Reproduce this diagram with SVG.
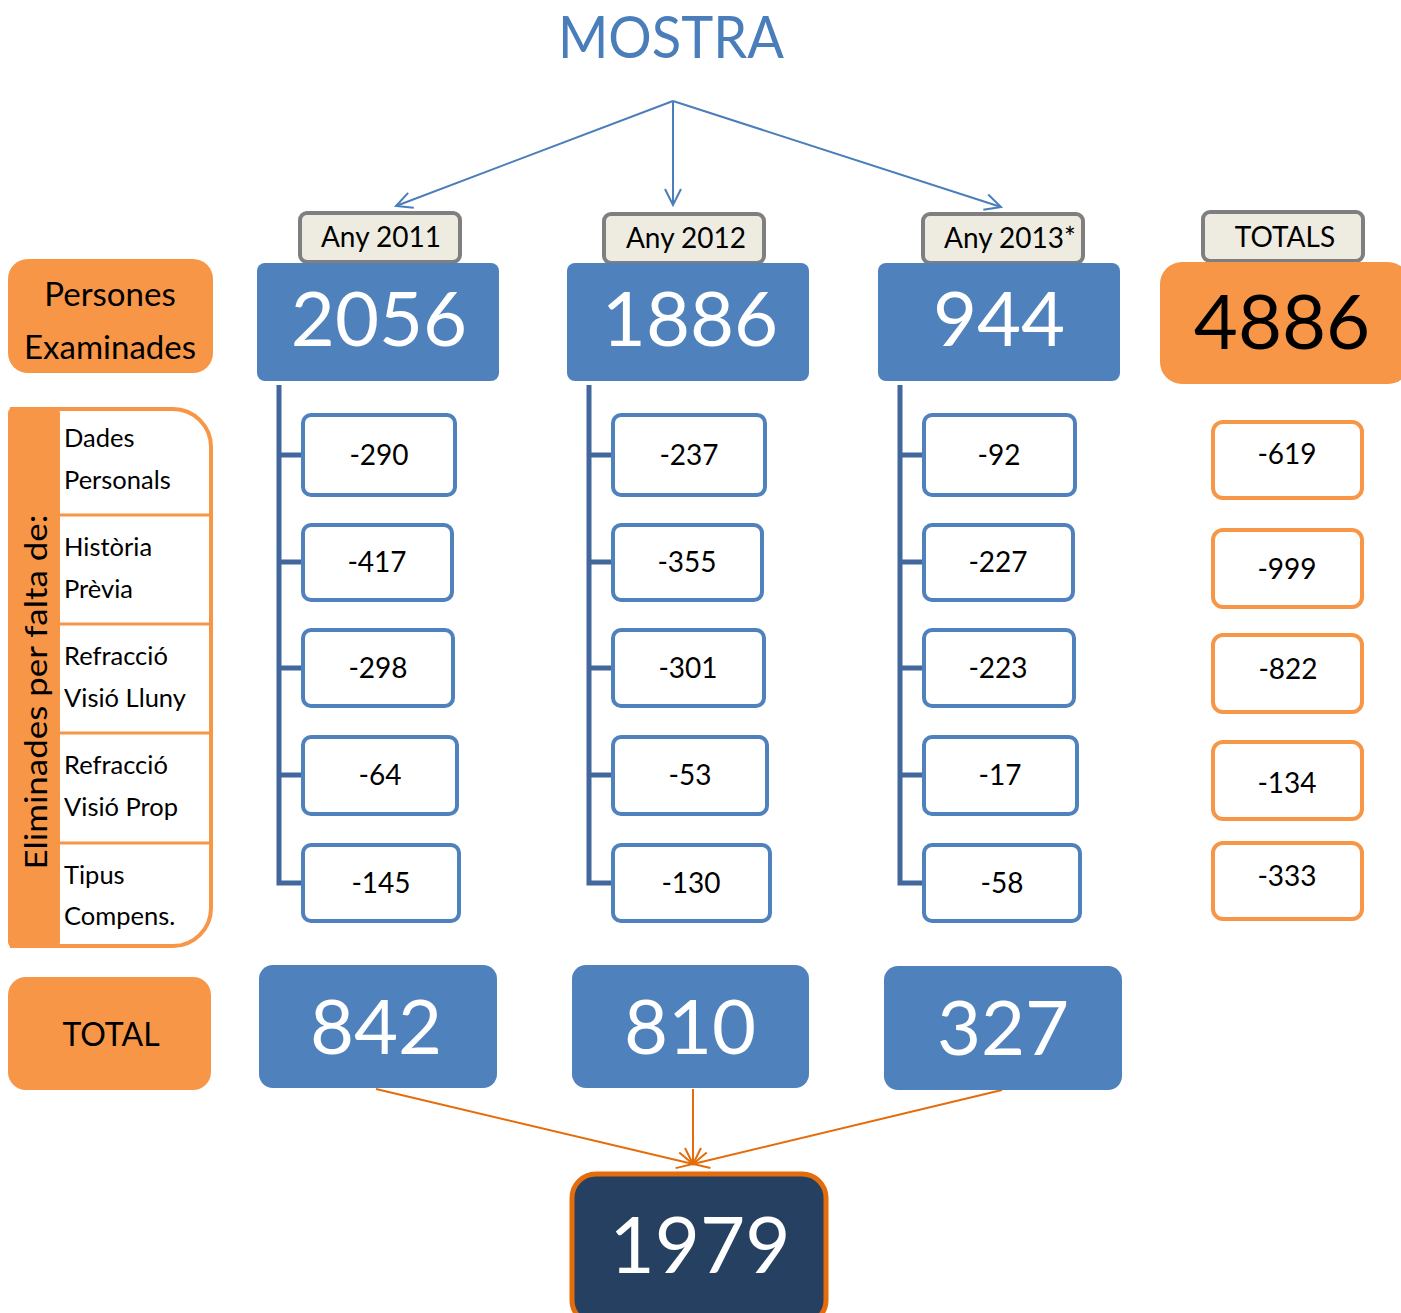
<svg xmlns="http://www.w3.org/2000/svg" width="1401" height="1313" viewBox="0 0 1401 1313">
<defs>
<style>
text{font-family:Lato,"Open Sans","Liberation Sans",sans-serif;}
.yr{fill:#EEECE1;stroke:#7F7F7F;stroke-width:4;}
.yrt{font-size:28px;fill:#000;text-anchor:middle;}
.big{fill:#4F81BD;}
.bigt{font-size:76px;fill:#fff;text-anchor:middle;}
.org{fill:#F79646;}
.sb{fill:#fff;stroke:#4F81BD;stroke-width:4;}
.sbo{fill:#fff;stroke:#F79646;stroke-width:4;}
.st{font-size:28px;fill:#000;text-anchor:middle;}
.lab{font-size:25.5px;fill:#000;}
.tree{fill:none;stroke:#41679C;stroke-width:5;}
.ab{fill:none;stroke:#4A7EBB;stroke-width:2;}
.ao{fill:none;stroke:#E46C0A;stroke-width:2;}
</style>
<marker id="mb" viewBox="0 0 20 20" refX="18" refY="10" markerWidth="20" markerHeight="20" markerUnits="userSpaceOnUse" orient="auto"><path d="M2,2 L18,10 L2,18" fill="none" stroke="#4A7EBB" stroke-width="2"/></marker>
<marker id="mo" viewBox="0 0 20 20" refX="18" refY="10" markerWidth="20" markerHeight="20" markerUnits="userSpaceOnUse" orient="auto"><path d="M2,2 L18,10 L2,18" fill="none" stroke="#E46C0A" stroke-width="2"/></marker>
</defs>
<text x="671" y="58" font-size="58" fill="#4A7EBB" text-anchor="middle" textLength="226" lengthAdjust="spacingAndGlyphs">MOSTRA</text>
<g id="connectors">
<line class="ab" x1="673" y1="101" x2="396" y2="206" marker-end="url(#mb)"/>
<line class="ab" x1="673" y1="101" x2="673" y2="205" marker-end="url(#mb)"/>
<line class="ab" x1="673" y1="101" x2="1001" y2="207" marker-end="url(#mb)"/>
<path class="tree" d="M279,385 V883 H303 M279,455 H303 M279,562 H303 M279,668 H303 M279,775 H303"/>
<path class="tree" d="M589,385 V883 H613 M589,455 H613 M589,562 H613 M589,668 H613 M589,775 H613"/>
<path class="tree" d="M900,385 V883 H924 M900,455 H924 M900,562 H924 M900,668 H924 M900,775 H924"/>
<line class="ao" x1="376" y1="1089" x2="693" y2="1164" marker-end="url(#mo)"/>
<line class="ao" x1="693" y1="1089" x2="693" y2="1164" marker-end="url(#mo)"/>
<line class="ao" x1="1002" y1="1090" x2="693" y2="1164" marker-end="url(#mo)"/>
</g>
<g id="persones"><rect class="org" x="8" y="259" width="205" height="114" rx="20"/><text x="110" y="306" font-size="33" fill="#000" text-anchor="middle">Persones</text><text x="110" y="359" font-size="33" fill="#000" text-anchor="middle">Examinades</text></g>
<g id="eliminades">
<path d="M12,409 H173 A38,38 0 0 1 211,447 V908 A38,38 0 0 1 173,946 H12 Z" fill="#fff" stroke="#F79646" stroke-width="4"/>
<rect class="org" x="8" y="407" width="52" height="541" rx="6"/>
<path d="M60,515 H211 M60,624 H211 M60,733 H211 M60,843 H211" stroke="#F79646" stroke-width="3"/>
<text transform="translate(47,692) rotate(-90)" font-size="31" fill="#000" text-anchor="middle" textLength="355" lengthAdjust="spacingAndGlyphs">Eliminades per falta de:</text>
<text class="lab" x="64" y="447">Dades</text><text class="lab" x="64" y="489">Personals</text>
<text class="lab" x="64" y="556">Història</text><text class="lab" x="64" y="598">Prèvia</text>
<text class="lab" x="64" y="665">Refracció</text><text class="lab" x="64" y="707">Visió Lluny</text>
<text class="lab" x="64" y="774">Refracció</text><text class="lab" x="64" y="816">Visió Prop</text>
<text class="lab" x="64" y="884">Tipus</text><text class="lab" x="64" y="925">Compens.</text>
</g>
<g id="total-label"><rect class="org" x="8" y="977" width="203" height="113" rx="18"/><text x="111" y="1046" font-size="32" text-anchor="middle" fill="#000">TOTAL</text></g>
<g id="y2011"><rect class="yr" x="300" y="213" width="160" height="49" rx="7"/><text class="yrt" x="381" y="247">Any 2011</text></g>
<g id="y2012"><rect class="yr" x="604" y="214" width="160" height="49" rx="7"/><text class="yrt" x="686" y="248">Any 2012</text></g>
<g id="y2013"><rect class="yr" x="923" y="214" width="160" height="49" rx="7"/><text class="yrt" x="1010" y="248">Any 2013*</text></g>
<g id="totals"><rect class="yr" x="1203" y="212" width="160" height="49" rx="7"/><text class="yrt" x="1285" y="247">TOTALS</text></g>
<g id="n2056"><rect class="big" x="257" y="263" width="242" height="118" rx="8"/><text class="bigt" x="379" y="346">2056</text></g>
<g id="n1886"><rect class="big" x="567" y="263" width="242" height="118" rx="8"/><text class="bigt" x="690" y="346">1886</text></g>
<g id="n944"><rect class="big" x="878" y="263" width="242" height="118" rx="8"/><text class="bigt" x="999" y="346">944</text></g>
<g id="n4886"><rect class="org" x="1160" y="262" width="250" height="122" rx="22"/><text class="bigt" x="1282" y="349" style="fill:#000">4886</text></g>
<g id="c1">
<rect class="sb" x="303" y="415" width="152" height="80" rx="8"/><text class="st" x="379" y="465">-290</text>
<rect class="sb" x="303" y="525" width="149" height="75" rx="8"/><text class="st" x="377" y="572">-417</text>
<rect class="sb" x="303" y="630" width="150" height="76" rx="8"/><text class="st" x="378" y="678">-298</text>
<rect class="sb" x="303" y="737" width="154" height="77" rx="8"/><text class="st" x="380" y="785">-64</text>
<rect class="sb" x="303" y="845" width="156" height="76" rx="8"/><text class="st" x="381" y="893">-145</text>
</g>
<g id="c2">
<rect class="sb" x="613" y="415" width="152" height="80" rx="8"/><text class="st" x="689" y="465">-237</text>
<rect class="sb" x="613" y="525" width="149" height="75" rx="8"/><text class="st" x="687" y="572">-355</text>
<rect class="sb" x="613" y="630" width="151" height="76" rx="8"/><text class="st" x="688" y="678">-301</text>
<rect class="sb" x="613" y="737" width="154" height="77" rx="8"/><text class="st" x="690" y="785">-53</text>
<rect class="sb" x="613" y="845" width="157" height="76" rx="8"/><text class="st" x="691" y="893">-130</text>
</g>
<g id="c3">
<rect class="sb" x="924" y="415" width="151" height="80" rx="8"/><text class="st" x="999" y="465">-92</text>
<rect class="sb" x="924" y="525" width="149" height="75" rx="8"/><text class="st" x="998" y="572">-227</text>
<rect class="sb" x="924" y="630" width="150" height="76" rx="8"/><text class="st" x="998" y="678">-223</text>
<rect class="sb" x="924" y="737" width="153" height="77" rx="8"/><text class="st" x="1000" y="785">-17</text>
<rect class="sb" x="924" y="845" width="156" height="76" rx="8"/><text class="st" x="1002" y="893">-58</text>
</g>
<g id="c4">
<rect class="sbo" x="1213" y="422" width="149" height="76" rx="10"/><text class="st" x="1287" y="464">-619</text>
<rect class="sbo" x="1213" y="530" width="149" height="77" rx="10"/><text class="st" x="1287" y="579">-999</text>
<rect class="sbo" x="1213" y="635" width="149" height="77" rx="10"/><text class="st" x="1288" y="679">-822</text>
<rect class="sbo" x="1213" y="742" width="149" height="77" rx="10"/><text class="st" x="1287" y="793">-134</text>
<rect class="sbo" x="1213" y="843" width="149" height="76" rx="10"/><text class="st" x="1287" y="886">-333</text>
</g>
<g id="n842"><rect class="big" x="259" y="965" width="238" height="123" rx="14"/><text class="bigt" x="376" y="1054">842</text></g>
<g id="n810"><rect class="big" x="572" y="965" width="237" height="123" rx="14"/><text class="bigt" x="690" y="1054">810</text></g>
<g id="n327"><rect class="big" x="884" y="966" width="238" height="124" rx="14"/><text class="bigt" x="1003" y="1055">327</text></g>
<g id="n1979"><rect x="572" y="1174" width="254" height="150" rx="24" fill="#264061" stroke="#E46C0A" stroke-width="5"/><text class="bigt" x="700" y="1273" style="font-size:78px">1979</text></g>
</svg>
